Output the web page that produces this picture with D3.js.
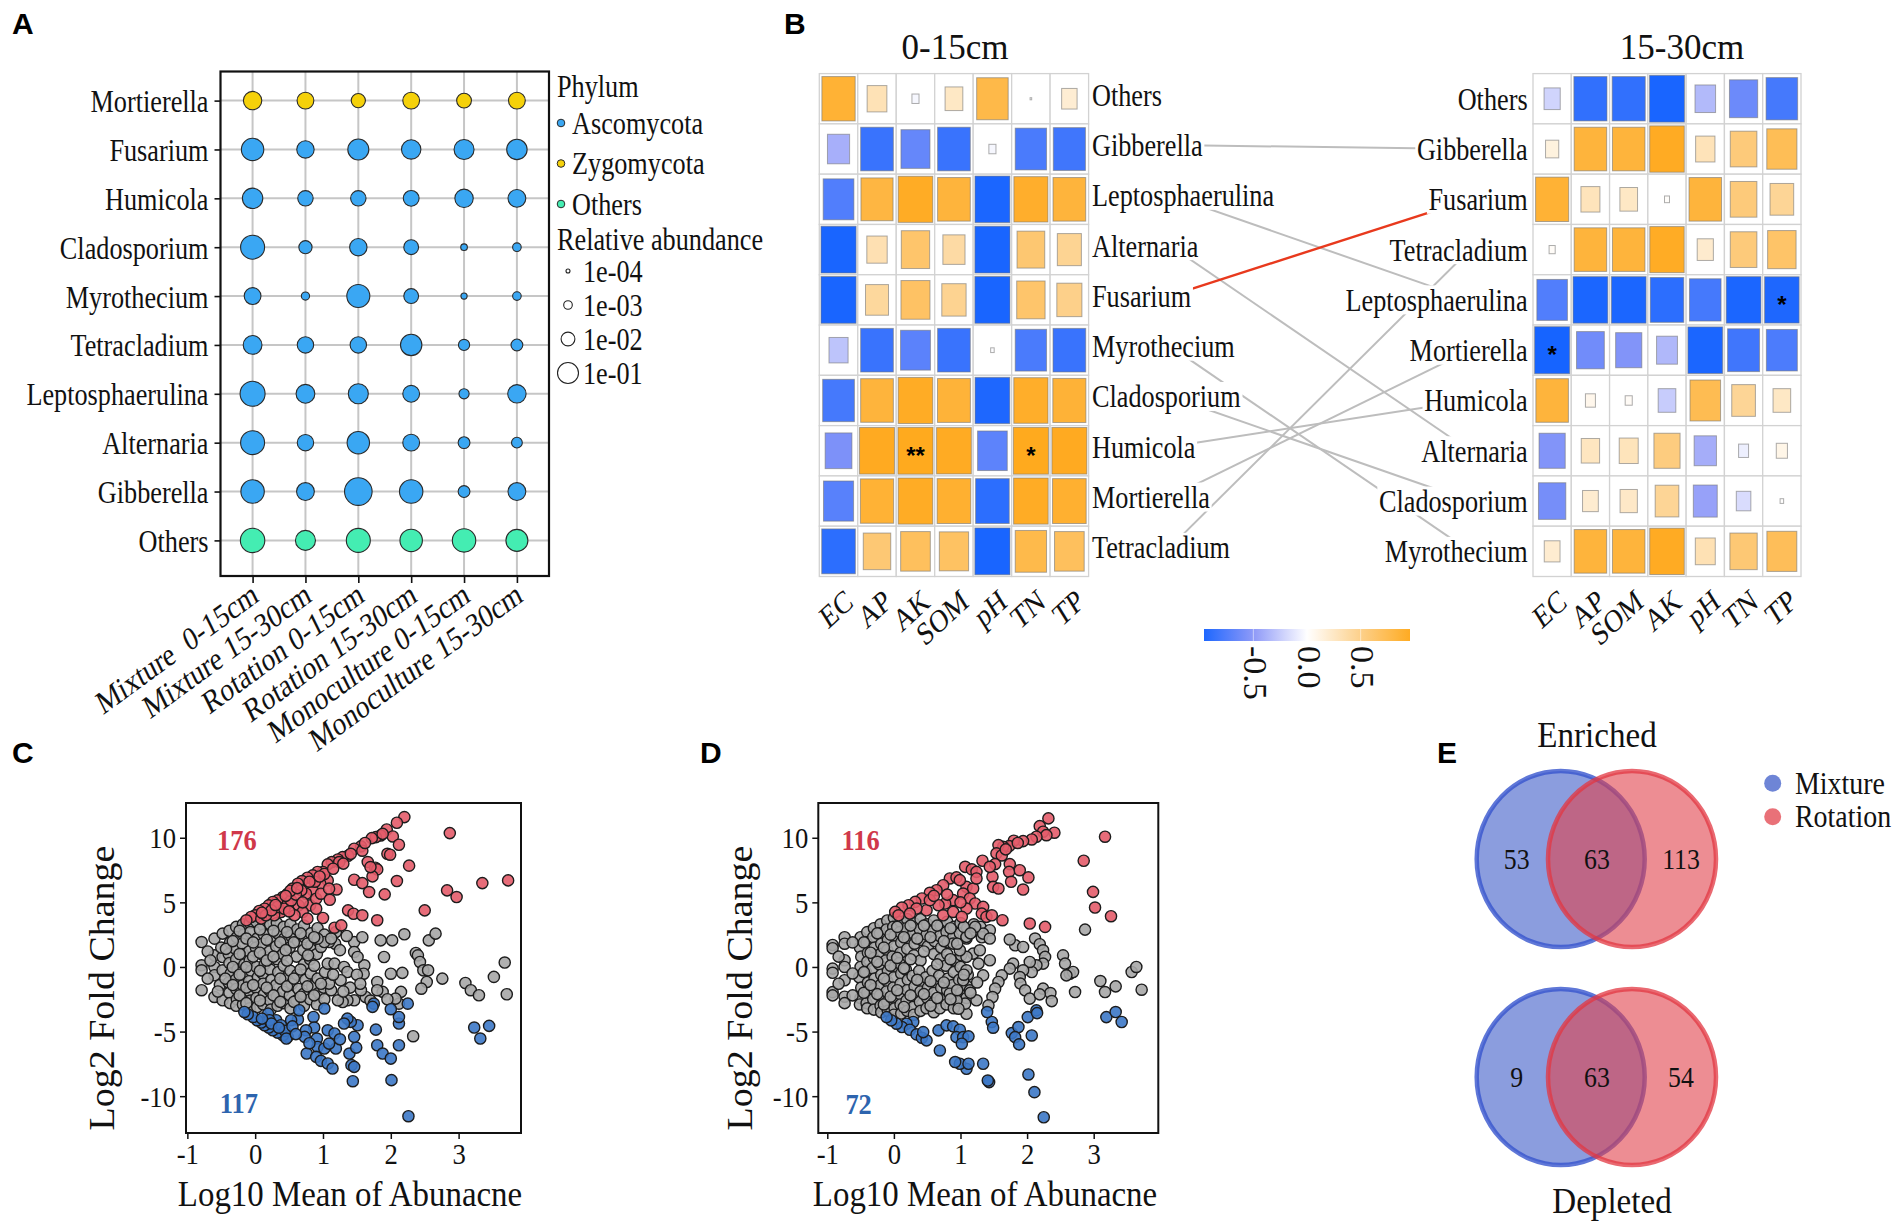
<!DOCTYPE html>
<html><head><meta charset="utf-8">
<script src="https://cdn.jsdelivr.net/npm/d3@7"></script>
<style>html,body{margin:0;padding:0;background:#fff;} svg{display:block;}</style>
</head><body><svg id="fig" width="1900" height="1229"></svg>
<script>
// ================= DATA =================
// Panel A
const genera = ["Mortierella","Fusarium","Humicola","Cladosporium","Myrothecium","Tetracladium","Leptosphaerulina","Alternaria","Gibberella","Others"];
const generaPhylum = ["Zygomycota","Ascomycota","Ascomycota","Ascomycota","Ascomycota","Ascomycota","Ascomycota","Ascomycota","Ascomycota","Others"];
const samples = ["Mixture  0-15cm","Mixture 15-30cm","Rotation 0-15cm","Rotation 15-30cm","Monoculture 0-15cm","Monoculture 15-30cm"];
const abundance = [
  [0.0435,0.026,0.0114,0.026,0.0138,0.026],
  [0.124,0.0316,0.1,0.06,0.0726,0.0826],
  [0.083,0.0167,0.0167,0.019,0.0435,0.036],
  [0.158,0.0077,0.0316,0.0138,0.00037,0.001],
  [0.026,0.00082,0.136,0.0138,0.0003,0.001],
  [0.049,0.023,0.023,0.106,0.00316,0.0041],
  [0.185,0.049,0.073,0.026,0.002,0.0435],
  [0.158,0.023,0.124,0.026,0.0041,0.00265],
  [0.145,0.036,0.275,0.145,0.0041,0.036],
  [0.169,0.073,0.158,0.124,0.145,0.116]
];
const phyla = ["Ascomycota","Zygomycota","Others"];
const sizeBreaks = [1e-4,1e-3,1e-2,1e-1];
const sizeLabels = ["1e-04","1e-03","1e-02","1e-01"];

// Panel B
const envLeft = ["EC","AP","AK","SOM","pH","TN","TP"];
const envRight = ["EC","AP","SOM","AK","pH","TN","TP"];
const rowsLeft = ["Others","Gibberella","Leptosphaerulina","Alternaria","Fusarium","Myrothecium","Cladosporium","Humicola","Mortierella","Tetracladium"];
const rowsRight = ["Others","Gibberella","Fusarium","Tetracladium","Leptosphaerulina","Mortierella","Humicola","Alternaria","Cladosporium","Myrothecium"];
const corrLeft = [
  [0.88,0.31,-0.04,0.25,0.79,0.002,0.19],
  [-0.39,-0.85,-0.67,-0.85,-0.04,-0.78,-0.82],
  [-0.75,0.82,0.95,0.85,-0.97,0.92,0.85],
  [-0.98,0.33,0.64,0.39,-0.98,0.61,0.46],
  [-0.98,0.42,0.67,0.47,-0.98,0.64,0.50],
  [-0.29,-0.85,-0.71,-0.85,-0.01,-0.78,-0.85],
  [-0.80,0.85,0.95,0.86,-0.96,0.93,0.87],
  [-0.57,0.97,0.98,0.96,-0.70,0.98,0.97],
  [-0.72,0.88,0.95,0.90,-0.90,0.95,0.90],
  [-0.90,0.60,0.70,0.68,-0.98,0.78,0.70]
];
const corrRight = [
  [-0.21,-0.88,-0.88,-0.98,-0.34,-0.64,-0.80],
  [0.14,0.85,0.85,0.96,0.30,0.57,0.73],
  [0.88,0.29,0.25,0.02,0.85,0.57,0.45],
  [0.03,0.85,0.85,0.95,0.21,0.57,0.65],
  [-0.75,-0.97,-0.97,-0.90,-0.80,-0.97,-0.96],
  [-0.99,-0.62,-0.55,-0.35,-0.97,-0.82,-0.77],
  [0.85,0.08,0.04,-0.25,0.75,0.45,0.25],
  [-0.55,0.27,0.29,0.55,-0.40,-0.08,0.10],
  [-0.60,0.20,0.24,0.45,-0.46,-0.17,0.01],
  [0.20,0.85,0.85,0.96,0.32,0.60,0.72]
];
const sigLeft = [["Humicola","AK","**"],["Humicola","TN","*"]];
const sigRight = [["Leptosphaerulina","TP","*"],["Mortierella","EC","*"]];
const linkGenera = ["Gibberella","Leptosphaerulina","Alternaria","Fusarium","Myrothecium","Cladosporium","Humicola","Mortierella","Tetracladium"];
const linkHighlight = ["Fusarium"];
const colorbarTicks = [-0.5,0,0.5];
const depthTitles = ["0-15cm","15-30cm"];

// Panel C  [log10 mean abundance, log2 fold change]
const maC_up = [[2.20,11.6],[2.09,11.16],[1.94,10.64],[1.85,10.18],[1.78,10.05],[1.72,9.97],[2.03,10.1],[2.12,9.46],[1.95,8.76],[1.99,8.69],[1.56,9.33],[1.46,9.15],[1.37,8.61],[1.29,8.5],[1.22,8.32],[1.13,8.12],[1.07,7.94],[1.66,8.12],[1.77,7.68],[1.80,7.55],[2.27,7.84],[1.73,7.01],[1.46,6.75],[1.58,6.49],[2.09,6.65],[1.68,5.8],[1.91,5.62],[1.0,7.35],[0.92,7.35],[0.85,7.09],[0.77,6.91],[0.69,6.65],[0.63,6.44],[1.07,6.7],[0.96,6.44],[1.20,6.0],[0.85,5.93],[0.75,5.67],[0.55,6.06],[0.48,5.67],[0.41,5.41],[0.33,5.15],[0.26,5.03],[0.20,4.77],[0.14,4.51],[0.06,4.33],[0.0,4.0],[-0.06,3.87],[-0.13,3.61],[0.64,4.77],[0.81,4.77],[0.70,4.25],[0.58,4.0],[0.38,4.25],[0.28,4.0],[1.37,4.38],[1.45,4.12],[1.58,4.0],[1.80,3.61],[2.50,4.38],[1.0,3.79],[1.17,3.04],[1.27,3.22],[2.83,5.93],[2.97,5.41],[3.35,6.49],[3.73,6.7],[2.87,10.36],[0.09,3.74],[0.16,4.0],[0.48,4.9],[0.33,4.64],[0.90,5.28],[0.97,5.67],[0.68,5.93],[1.09,6.06],[0.77,3.74],[0.43,4.51],[0.24,4.38],[0.53,5.15],[1.58,9.0],[1.41,8.76],[1.24,8.12],[1.02,7.2],[1.70,7.73],[1.88,10.3],[1.62,9.6],[0.88,6.6],[0.60,5.6],[0.52,5.9],[0.10,4.2],[0.30,4.8],[0.45,5.5],[0.62,6.1],[0.80,6.6],[0.95,7.0],[1.15,7.6],[1.30,8.0],[0.50,4.3],[0.70,5.0],[0.90,4.5],[1.10,5.2]];
const maC_down = [[2.26,-11.55],[2.01,-8.76],[1.44,-8.84],[1.42,-7.6],[1.46,-7.73],[1.39,-6.70],[1.49,-6.24],[1.46,-5.41],[1.51,-4.51],[1.41,-4.25],[1.36,-4.0],[1.78,-4.85],[1.80,-6.06],[1.88,-6.70],[2.0,-7.09],[2.12,-6.06],[2.12,-4.38],[2.12,-3.87],[2.0,-3.27],[1.75,-2.84],[2.25,-2.84],[3.23,-4.69],[3.32,-5.54],[3.45,-4.56],[1.02,-3.22],[0.86,-3.87],[0.87,-4.69],[0.75,-4.90],[0.73,-5.41],[0.91,-5.54],[1.07,-4.90],[1.17,-5.15],[0.92,-6.19],[1.02,-6.31],[1.19,-6.31],[0.76,-6.70],[0.90,-6.96],[0.97,-7.27],[1.07,-7.47],[1.14,-7.86],[0.63,-4.07],[0.53,-4.12],[0.48,-5.41],[0.41,-5.28],[0.33,-5.08],[0.26,-4.90],[0.20,-4.69],[0.14,-4.51],[0.09,-4.30],[0.03,-4.12],[-0.03,-3.87],[-0.11,-3.66],[-0.16,-3.48],[0.19,-3.61],[0.31,-4.12],[0.38,-4.51],[0.21,-4.12],[0.65,-3.35],[0.44,-4.95],[1.31,-4.38],[1.09,-5.93],[1.73,-3.09],[0.24,-4.38],[0.46,-5.54],[0.10,-4.0],[0.35,-4.7],[0.55,-4.6],[0.60,-5.2],[0.80,-5.9],[1.25,-5.6]];
const maC_ns = [[-0.79,1.93],[-0.79,0.13],[-0.79,-0.26],[-0.79,-1.8],[-0.60,2.19],[-0.60,0.9],[-0.60,0.0],[-0.60,-0.64],[-0.60,-2.32],[-0.48,2.58],[-0.48,0.77],[-0.48,-0.26],[-0.48,-2.58],[-0.50,1.5],[-0.52,-1.4],[-0.38,2.8],[-0.37,1.9],[-0.39,1.0],[-0.38,0.3],[-0.36,-0.5],[-0.39,-1.2],[-0.38,-2.0],[-0.37,-2.8],[-0.28,3.1],[-0.27,2.3],[-0.29,1.4],[-0.28,0.6],[-0.26,-0.2],[-0.29,-1.0],[-0.28,-1.7],[-0.27,-2.5],[-0.28,-3.0],[-0.18,3.3],[-0.17,2.5],[-0.19,1.8],[-0.18,1.0],[-0.16,0.2],[-0.19,-0.6],[-0.18,-1.4],[-0.17,-2.2],[-0.18,-2.9],[-0.08,3.4],[-0.07,2.7],[-0.09,1.2],[-0.08,0.5],[-0.06,-0.3],[-0.09,-1.1],[-0.08,-1.9],[-0.07,-2.6],[-0.08,-3.2],[0.02,3.5],[0.03,2.2],[0.01,1.5],[0.02,0.0],[0.04,-0.8],[0.01,-1.6],[0.02,-2.4],[0.03,-3.1],[0.12,3.2],[0.13,2.5],[0.11,1.8],[0.12,0.9],[0.14,0.2],[0.11,-0.5],[0.12,-1.3],[0.13,-2.1],[0.12,-2.9],[0.22,3.3],[0.23,2.0],[0.21,1.2],[0.22,-0.2],[0.24,-1.0],[0.21,-1.8],[0.22,-2.6],[0.23,-3.3],[0.32,3.4],[0.33,2.6],[0.31,1.6],[0.32,0.6],[0.34,-0.4],[0.31,-1.4],[0.32,-2.3],[0.33,-3.0],[0.42,3.1],[0.43,2.2],[0.41,1.0],[0.42,0.1],[0.44,-0.9],[0.41,-1.9],[0.42,-2.8],[0.52,3.3],[0.53,2.4],[0.51,1.5],[0.52,-0.3],[0.54,-1.3],[0.51,-2.2],[0.52,-3.2],[0.62,2.9],[0.63,2.0],[0.61,0.8],[0.62,-0.6],[0.64,-1.7],[0.61,-2.6],[0.72,3.2],[0.73,2.3],[0.71,1.3],[0.72,0.2],[0.74,-1.0],[0.71,-2.1],[0.72,-3.0],[0.82,2.6],[0.83,1.7],[0.81,0.6],[0.82,-0.5],[0.84,-1.5],[0.81,-2.5],[0.92,3.0],[0.93,2.0],[0.91,1.0],[0.92,-0.9],[0.94,-2.0],[0.91,-2.9],[1.02,2.5],[1.03,-0.4],[1.01,-1.6],[1.02,-2.5],[1.85,2.06],[2.02,2.06],[2.20,2.53],[2.56,2.06],[2.66,2.58],[2.37,1.08],[2.40,0.9],[2.43,0.39],[2.48,-0.26],[2.55,-0.26],[2.53,-1.16],[2.45,-1.68],[2.76,-0.9],[3.10,-1.24],[3.18,-1.8],[3.30,-2.19],[3.52,-0.77],[3.68,0.34],[3.71,-2.11],[2.33,-5.36],[2.15,-1.93],[2.12,-2.84],[2.07,-2.45],[2.0,-0.52],[2.17,-0.46],[1.90,0.77],[1.80,-1.16],[1.88,-1.93],[1.61,0.13],[1.60,-0.52],[1.63,-2.32],[1.56,-1.8],[1.46,-2.58],[1.36,-2.58],[1.29,-2.71],[1.22,-2.58],[1.12,-1.8],[1.09,-1.29],[1.07,0.26],[1.17,0.26],[1.31,0.0],[1.36,-0.39],[1.26,-1.03],[1.46,1.93],[1.46,1.16],[1.51,0.77],[1.18,1.8],[1.09,1.93],[0.97,1.55],[1.02,1.93],[0.92,2.19],[1.19,2.71],[1.80,-1.8],[1.50,-0.6],[1.55,-1.3],[1.40,-1.6],[1.70,-2.6],[1.95,-2.5],[1.25,1.3],[1.35,2.4],[1.58,2.3],[-0.70,1.2],[-0.70,-0.9],[-0.66,0.5],[-0.55,-1.9],[-0.43,1.4],[-0.44,-0.9],[-0.33,2.0],[-0.33,-1.4],[-0.33,0.0],[-0.23,2.8],[-0.23,1.0],[-0.23,-0.6],[-0.23,-2.2],[-0.13,2.2],[-0.13,0.0],[-0.13,-1.6],[-0.13,-2.8],[-0.03,1.9],[-0.03,0.8],[-0.03,-1.4],[0.07,2.9],[0.07,1.1],[0.07,-0.3],[0.07,-2.6],[0.17,2.1],[0.17,0.5],[0.17,-1.6],[0.27,2.8],[0.27,0.8],[0.27,-2.2],[0.37,1.9],[0.37,-0.9],[0.37,-2.7],[0.47,2.7],[0.47,0.5],[0.47,-1.5],[0.57,1.9],[0.57,-0.9],[0.57,-2.7],[0.67,2.6],[0.67,-0.2],[0.67,-2.3],[0.77,1.8],[0.77,-1.5],[0.87,2.3],[0.87,0.1],[0.87,-2.2],[0.97,-1.3],[1.12,2.2],[1.15,-0.6],[1.30,-1.9],[0.78,0.9],[0.45,1.3]];
const countLabelsC = [{n:176,x:-0.27,y:9.8,type:"up"},{n:117,x:-0.24,y:-10.55,type:"down"}];

// Panel D
const maD_up = [[2.32,11.5],[2.19,10.9],[2.24,10.47],[2.41,10.39],[2.29,10.2],[2.14,10.08],[2.07,9.87],[1.94,9.74],[1.80,9.77],[1.73,9.35],[1.64,9.3],[1.57,9.43],[1.54,8.79],[1.62,8.63],[3.17,10.08],[2.85,8.22],[1.33,8.22],[1.07,7.75],[1.17,7.55],[1.24,7.36],[1.52,7.96],[1.74,7.96],[1.73,7.36],[1.89,7.49],[2.02,6.93],[1.76,6.59],[1.48,6.98],[1.49,6.2],[1.57,6.07],[1.94,5.99],[2.99,5.81],[3.02,4.6],[3.26,3.93],[2.04,3.36],[2.27,3.1],[0.84,6.85],[0.94,6.93],[0.74,6.33],[0.64,5.94],[0.54,5.74],[0.42,5.3],[0.32,5.04],[0.22,4.78],[0.12,4.6],[0.02,4.26],[1.09,6.2],[1.19,6.07],[1.04,5.68],[0.89,5.17],[0.77,4.91],[1.14,5.3],[1.22,4.91],[1.09,4.52],[1.34,4.65],[1.32,4.13],[1.39,3.88],[1.47,4.0],[1.63,3.62],[0.67,4.78],[0.49,4.39],[0.34,4.52],[0.74,4.0],[0.89,4.26],[1.02,3.88],[0.24,4.13],[0.07,4.0],[0.54,5.17],[0.99,6.72],[1.24,6.85],[1.44,7.75],[1.68,9.1],[1.86,9.6],[0.60,5.5],[0.80,5.6],[1.00,5.0]];
const maD_down = [[2.25,-11.63],[2.11,-9.69],[2.02,-8.32],[1.43,-8.91],[1.41,-8.79],[1.34,-7.49],[1.09,-7.88],[0.99,-7.49],[0.92,-7.36],[1.12,-7.49],[0.69,-6.46],[0.67,-4.91],[0.79,-4.52],[0.89,-4.6],[0.99,-4.86],[0.94,-5.43],[1.04,-5.43],[1.12,-5.37],[1.02,-5.94],[1.47,-4.26],[1.49,-4.7],[1.40,-3.49],[1.77,-5.12],[1.87,-4.65],[1.82,-5.43],[1.88,-5.99],[2.07,-5.3],[2.01,-3.88],[2.14,-3.36],[2.15,-3.57],[3.19,-3.88],[3.33,-3.49],[3.42,-4.26],[0.29,-4.26],[0.19,-4.39],[0.12,-4.65],[0.04,-4.39],[0.24,-4.86],[0.34,-5.22],[0.42,-5.48],[0.49,-5.68],[0.44,-5.04],[-0.04,-4.13],[-0.11,-3.88]];
const maD_ns = [[-0.92,1.7],[-0.92,1.45],[-0.92,-0.13],[-0.92,-0.45],[-0.92,-1.95],[-0.92,-2.2],[-0.74,2.3],[-0.74,1.8],[-0.74,0.52],[-0.74,0.0],[-0.74,-1.03],[-0.74,-2.3],[-0.74,-2.8],[-0.5,2.3],[-0.51,1.5],[-0.49,0.8],[-0.5,0.0],[-0.52,-0.8],[-0.49,-1.6],[-0.5,-2.4],[-0.51,-2.9],[-0.4,2.7],[-0.41,1.9],[-0.39,1.1],[-0.4,0.4],[-0.42,-0.4],[-0.39,-1.2],[-0.4,-2.0],[-0.41,-2.8],[-0.4,-3.2],[-0.3,3.0],[-0.31,2.3],[-0.29,1.5],[-0.3,0.7],[-0.32,-0.1],[-0.29,-0.9],[-0.3,-1.7],[-0.31,-2.5],[-0.3,-3.3],[-0.2,3.3],[-0.21,2.6],[-0.19,1.8],[-0.2,1.0],[-0.22,0.2],[-0.19,-0.6],[-0.2,-1.4],[-0.21,-2.2],[-0.2,-3.0],[-0.19,-3.5],[-0.1,3.6],[-0.11,2.9],[-0.09,2.1],[-0.1,1.3],[-0.12,0.5],[-0.09,-0.3],[-0.1,-1.1],[-0.11,-1.9],[-0.1,-2.7],[-0.09,-3.4],[0.0,3.8],[-0.01,3.1],[0.01,2.4],[0.0,1.6],[-0.02,0.8],[0.01,0.0],[0.0,-0.8],[-0.01,-1.6],[0.0,-2.4],[0.01,-3.2],[0.0,-3.7],[0.1,3.5],[0.09,2.7],[0.11,1.9],[0.1,1.1],[0.08,0.3],[0.11,-0.5],[0.1,-1.3],[0.09,-2.1],[0.1,-2.9],[0.11,-3.6],[0.2,3.7],[0.19,3.0],[0.21,2.2],[0.2,1.4],[0.18,-0.2],[0.21,-1.0],[0.2,-1.8],[0.19,-2.6],[0.2,-3.4],[0.3,3.4],[0.29,2.6],[0.31,1.8],[0.3,0.9],[0.28,-0.7],[0.31,-1.5],[0.3,-2.3],[0.29,-3.1],[0.3,-3.7],[0.4,3.7],[0.39,2.9],[0.41,2.1],[0.4,0.5],[0.38,-0.3],[0.41,-1.1],[0.4,-1.9],[0.39,-2.7],[0.4,-3.4],[0.5,3.3],[0.49,2.5],[0.51,1.6],[0.48,-0.8],[0.51,-1.6],[0.5,-2.4],[0.49,-3.2],[0.6,3.6],[0.59,2.8],[0.61,2.0],[0.6,1.0],[0.58,-0.3],[0.61,-1.2],[0.6,-2.0],[0.59,-2.8],[0.6,-3.5],[0.7,3.2],[0.69,2.4],[0.71,1.5],[0.7,0.6],[0.68,-0.7],[0.71,-1.6],[0.7,-2.5],[0.69,-3.2],[0.8,3.5],[0.79,2.7],[0.81,1.9],[0.8,1.0],[0.78,0.1],[0.81,-0.9],[0.8,-1.8],[0.79,-2.9],[0.9,3.1],[0.89,2.3],[0.91,0.5],[0.9,-0.4],[0.88,-1.4],[0.91,-2.3],[0.9,-3.2],[1.0,3.4],[0.99,2.6],[1.01,0.9],[1.0,0.0],[0.98,-1.0],[1.01,-2.0],[1.1,3.0],[1.09,2.2],[1.11,-0.6],[1.1,-1.5],[1.09,-2.4],[1.2,3.3],[1.22,2.8],[1.3,3.1],[1.32,2.3],[1.44,2.84],[1.34,2.58],[1.22,3.1],[1.09,2.33],[1.82,1.68],[1.94,1.55],[2.12,2.2],[2.19,1.76],[2.24,1.29],[2.27,0.78],[2.24,0.26],[2.14,0.13],[2.07,-0.39],[2.04,0.39],[1.94,-0.26],[1.89,-0.78],[1.90,-1.29],[1.97,-1.81],[2.04,-2.45],[2.24,-1.68],[2.35,-2.02],[2.37,-2.64],[2.19,-2.12],[2.54,0.9],[2.57,0.26],[2.64,-0.52],[2.69,-0.39],[2.59,-0.65],[2.72,-1.94],[2.87,2.89],[3.10,-1.09],[3.17,-1.94],[3.33,-1.5],[3.57,-0.39],[3.64,0.0],[3.72,-1.76],[1.79,0.26],[1.74,-0.13],[1.62,-0.65],[1.57,-1.16],[1.52,-1.68],[1.48,-2.33],[1.42,-2.97],[1.09,-3.62],[1.34,-0.65],[1.27,0.26],[1.19,1.03],[1.29,1.29],[1.44,0.52],[1.09,0.78],[1.09,-0.26],[1.04,-1.03],[1.14,-1.81],[1.24,-2.58],[1.07,-2.84],[0.94,-2.58],[0.84,-2.07],[0.97,-3.23],[0.89,1.81],[0.99,1.29],[1.74,2.12],[1.44,2.2],[-0.83,0.8],[-0.83,-1.3],[-0.62,1.9],[-0.62,-0.5],[-0.62,-2.2],[-0.45,1.9],[-0.45,-0.4],[-0.45,-2.0],[-0.35,1.1],[-0.35,-1.4],[-0.25,2.6],[-0.25,0.4],[-0.25,-2.1],[-0.15,1.5],[-0.15,-0.9],[-0.15,-2.9],[-0.05,2.5],[-0.05,0.1],[-0.05,-2.3],[0.05,3.1],[0.05,0.7],[0.05,-1.8],[0.15,2.3],[0.15,-0.1],[0.15,-3.1],[0.25,3.2],[0.25,0.6],[0.25,-2.2],[0.35,2.2],[0.35,-1.0],[0.45,3.2],[0.45,1.2],[0.45,-2.1],[0.55,2.3],[0.55,-1.1],[0.55,-3.0],[0.65,3.2],[0.65,0.2],[0.65,-2.4],[0.75,2.0],[0.75,-1.2],[0.85,3.0],[0.85,0.6],[0.85,-2.5],[0.95,1.8],[0.95,-1.8],[1.05,3.1],[1.05,-0.6],[1.15,2.6],[1.15,-2.0],[1.25,-1.2]];
const countLabelsD = [{n:116,x:-0.5,y:9.8,type:"up"},{n:72,x:-0.53,y:-10.6,type:"down"}];
const maXTicks = [-1,0,1,2,3];
const maYTicks = [-10,-5,0,5,10];

// Panel E
const vennSets = ["Mixture","Rotation"];
const enrichedCounts = [53,63,113];
const depletedCounts = [9,63,54];

// ================= DRAWING =================
const SERIF = "'Liberation Serif','Times New Roman',serif";
const SANS = "'Liberation Sans',Arial,sans-serif";
const svg = d3.select("#fig");
svg.append("rect").attr("width",1900).attr("height",1229).attr("fill","#fff");

function T(g,x,y,s,o={}){
  const tr = `translate(${x},${y}) scale(${o.sx ?? 1},1)` + (o.rot ? ` rotate(${o.rot})` : "");
  return g.append("text").attr("transform",tr)
    .attr("font-family",o.family || SERIF).attr("font-size",o.size || 30)
    .attr("text-anchor",o.anchor || "start").attr("dominant-baseline",o.base || "auto")
    .attr("fill",o.fill || "#111").attr("font-weight",o.weight || "normal")
    .style("white-space","pre").text(s);
}

// panel letters
[["A",12,34],["B",784,34],["C",12,763],["D",700,763],["E",1437,763]].forEach(([l,x,y])=>
  T(svg,x,y,l,{family:SANS,size:30,weight:"bold",fill:"#000"}));

// ---------- Panel A ----------
(function(){
  const A={x0:220.5,x1:549,y0:71.5,y1:576};
  const xA=d3.scalePoint().domain(samples).range([A.x0,A.x1]).padding(0.607);
  const yA=d3.scalePoint().domain(genera).range([100.6,540.4]);
  const rA=d3.scaleLog().domain([1e-4,1e-3,1e-2,1e-1,1]).range([2,4.3,6.9,10.5,18]);
  const pc=d3.scaleOrdinal().domain(phyla).range(["#3AA7F3","#F5D10A","#44EDB2"]);
  const g=svg.append("g");
  g.selectAll(".vg").data(samples).join("line").attr("x1",d=>xA(d)).attr("x2",d=>xA(d))
    .attr("y1",A.y0).attr("y2",A.y1).attr("stroke","#c6c6c6").attr("stroke-width",2);
  g.selectAll(".hg").data(genera).join("line").attr("y1",d=>yA(d)).attr("y2",d=>yA(d))
    .attr("x1",A.x0).attr("x2",A.x1).attr("stroke","#c6c6c6").attr("stroke-width",2);
  const cells=genera.flatMap((gn,i)=>samples.map((s,j)=>({gn,s,v:abundance[i][j],p:generaPhylum[i]})));
  g.selectAll(".bub").data(cells).join("circle").attr("cx",d=>xA(d.s)).attr("cy",d=>yA(d.gn))
    .attr("r",d=>rA(d.v)).attr("fill",d=>pc(d.p)).attr("stroke","#2a2a2a").attr("stroke-width",1.1);
  g.append("rect").attr("x",A.x0).attr("y",A.y0).attr("width",A.x1-A.x0).attr("height",A.y1-A.y0)
    .attr("fill","none").attr("stroke","#111").attr("stroke-width",2.2);
  const axL=g.append("g").attr("transform",`translate(${A.x0},0)`).call(d3.axisLeft(yA).tickSize(6).tickSizeOuter(0));
  axL.select(".domain").remove();
  axL.selectAll("line").attr("stroke","#111").attr("stroke-width",1.6);
  axL.selectAll("text").attr("x",null).attr("dy",null).attr("font-size",32).attr("font-family",SERIF)
    .attr("fill","#111").attr("dominant-baseline","central").attr("transform","translate(-12,0) scale(0.82,1)");
  const axB=g.append("g").attr("transform",`translate(0,${A.y1})`).call(d3.axisBottom(xA).tickSize(7).tickSizeOuter(0));
  axB.select(".domain").remove();
  axB.selectAll("line").attr("stroke","#111").attr("stroke-width",1.6);
  axB.selectAll("text").attr("y",null).attr("dy",null).attr("font-size",33).attr("font-family",SERIF)
    .attr("fill","#111").attr("text-anchor","end").attr("dominant-baseline","hanging").style("white-space","pre")
    .attr("transform","translate(-3,4) scale(0.82,1) rotate(-31)");
  // legend
  T(g,557,97,"Phylum",{size:32,sx:0.82});
  phyla.forEach((p,i)=>{
    const y=123+i*40.5;
    g.append("circle").attr("cx",561).attr("cy",y).attr("r",3.8).attr("fill",pc(p)).attr("stroke","#2a2a2a").attr("stroke-width",1);
    T(g,572,y,p,{size:32,sx:0.82,base:"central"});
  });
  T(g,557,239,"Relative abundance",{size:32,sx:0.82,base:"central"});
  sizeBreaks.forEach((b,i)=>{
    const y=271+i*34;
    g.append("circle").attr("cx",568).attr("cy",y).attr("r",rA(b)).attr("fill","none").attr("stroke","#222").attr("stroke-width",1.1);
    T(g,583,y,sizeLabels[i],{size:32,sx:0.82,base:"central"});
  });
})();

// ---------- Panel B ----------
const heatColor=d3.scaleLinear().domain([-1,-0.5,0,0.5,1]).range(["#1463FF","#8E99F8","#FFFFFF","#FDD08A","#FFA81A"]);
const HB={y0:73.6,y1:576.5};
function drawHeat(x0,x1,rows,cols,M,sig,title,titleX){
  const xb=d3.scaleBand().domain(cols).range([x0,x1]);
  const yb=d3.scaleBand().domain(rows).range([HB.y0,HB.y1]);
  const g=svg.append("g");
  const cells=rows.flatMap((r,i)=>cols.map((c,j)=>({r,c,v:M[i][j]})));
  const W=xb.bandwidth(),H=yb.bandwidth();
  g.selectAll(".bg").data(cells).join("rect").attr("x",d=>xb(d.c)).attr("y",d=>yb(d.r))
    .attr("width",W).attr("height",H).attr("fill","#fff").attr("stroke","#d2d2d2").attr("stroke-width",1.3);
  g.selectAll(".sq").data(cells).join("rect")
    .attr("x",d=>xb(d.c)+W/2-(W-3)*Math.sqrt(Math.abs(d.v))/2)
    .attr("y",d=>yb(d.r)+H/2-(H-3)*Math.sqrt(Math.abs(d.v))/2)
    .attr("width",d=>(W-3)*Math.sqrt(Math.abs(d.v))).attr("height",d=>(H-3)*Math.sqrt(Math.abs(d.v)))
    .attr("fill",d=>heatColor(d.v)).attr("stroke","#777").attr("stroke-opacity",0.6).attr("stroke-width",1);
  sig.forEach(([r,c,s])=>T(g,xb(c)+W/2,yb(r)+H/2+13,s,{family:SANS,size:24,weight:"bold",anchor:"middle",fill:"#000"}));
  cols.forEach(c=>T(g,xb(c)+W/2+5,587,c,{size:32,sx:0.82,rot:-37,anchor:"end",base:"hanging"}));
  T(g,titleX,59,title,{size:35,anchor:"middle"});
  return {xb,yb};
}
const HL=drawHeat(819.3,1088.6,rowsLeft,envLeft,corrLeft,sigLeft,depthTitles[0],955);
const HR=drawHeat(1533,1801,rowsRight,envRight,corrRight,sigRight,depthTitles[1],1682);
// links
(function(){
  const g=svg.append("g");
  const LX=1170,RX=1470;
  const hL=HL.yb.bandwidth()/2,hR=HR.yb.bandwidth()/2;
  g.selectAll("line").data(linkGenera).join("line")
    .attr("x1",LX).attr("y1",d=>HL.yb(d)+hL-4).attr("x2",RX).attr("y2",d=>HR.yb(d)+hR)
    .attr("stroke",d=>linkHighlight.includes(d)?"#E8391D":"#BDBDBD")
    .attr("stroke-width",d=>linkHighlight.includes(d)?2.4:2);
  function lab(x,y,s,anchor){
    const t=T(g,x,y,s,{size:32,sx:0.82,anchor,base:"central"});
    const bb=t.node().getBBox();
    g.insert("rect",()=>t.node()).attr("transform",t.attr("transform"))
      .attr("x",bb.x-2).attr("y",bb.y+3).attr("width",bb.width+4).attr("height",bb.height-6).attr("fill","#fff");
  }
  rowsLeft.forEach(r=>lab(1092,HL.yb(r)+hL-4,r,"start"));
  rowsRight.forEach(r=>lab(1527.6,HR.yb(r)+hR,r,"end"));
})();
// colorbar
(function(){
  const cx=d3.scaleLinear().domain([-0.96,0.96]).range([1204,1410]);
  const defs=svg.append("defs");
  const gr=defs.append("linearGradient").attr("id","cbar").attr("x1","0%").attr("x2","100%");
  d3.range(0,1.0001,0.05).forEach(t=>gr.append("stop").attr("offset",t).attr("stop-color",heatColor(-0.96+1.92*t)));
  const g=svg.append("g");
  g.append("rect").attr("x",1204).attr("y",629).attr("width",206).attr("height",12).attr("fill","url(#cbar)");
  colorbarTicks.forEach(v=>{
    g.append("line").attr("x1",cx(v)).attr("x2",cx(v)).attr("y1",629).attr("y2",641).attr("stroke","#fff").attr("stroke-opacity",0.5);
    T(g,cx(v)+2,646,v.toFixed(1),{size:34,rot:90,anchor:"start",base:"central"});
  });
})();

// ---------- Panels C & D ----------
function drawMA(xr,xdom,up,down,ns,labels,yTitleX,xTitleX){
  const x=d3.scaleLinear().domain(xdom).range(xr);
  const y=d3.scaleLinear().domain([-12.85,12.69]).range([1133,803]);
  const g=svg.append("g");
  const pts=(arr,fill)=>g.append("g").selectAll("circle").data(arr).join("circle")
    .attr("cx",d=>x(d[0])).attr("cy",d=>y(d[1])).attr("r",5.6).attr("fill",fill).attr("fill-opacity",0.9)
    .attr("stroke","#1c1c1c").attr("stroke-width",1.4);
  pts(ns,"#A7A7A7"); pts(down,"#3C78C6"); pts(up,"#E45C6A");
  g.append("rect").attr("x",xr[0]).attr("y",803).attr("width",xr[1]-xr[0]).attr("height",330)
    .attr("fill","none").attr("stroke","#111").attr("stroke-width",2);
  const ay=g.append("g").attr("transform",`translate(${xr[0]},0)`).call(d3.axisLeft(y).tickValues(maYTicks).tickSize(6).tickFormat(d=>String(d)));
  ay.select(".domain").remove();
  ay.selectAll("line").attr("stroke","#111").attr("stroke-width",1.5);
  ay.selectAll("text").attr("x",null).attr("dy",null).attr("font-size",29).attr("font-family",SERIF).attr("fill","#111")
    .attr("dominant-baseline","central").attr("transform","translate(-10,0) scale(0.92,1)");
  const ax=g.append("g").attr("transform","translate(0,1133)").call(d3.axisBottom(x).tickValues(maXTicks).tickSize(6).tickFormat(d=>String(d)));
  ax.select(".domain").remove();
  ax.selectAll("line").attr("stroke","#111").attr("stroke-width",1.5);
  ax.selectAll("text").attr("y",null).attr("dy",null).attr("font-size",29).attr("font-family",SERIF).attr("fill","#111")
    .attr("dominant-baseline","hanging").attr("transform","translate(0,10) scale(0.92,1)");
  T(g,xTitleX,1206,"Log10 Mean of Abunacne",{size:35,sx:0.94,anchor:"middle"});
  T(g,yTitleX,988,"Log2 Fold Change",{size:38,sx:0.94,rot:-90,anchor:"middle"});
  labels.forEach(l=>T(g,x(l.x),y(l.y),String(l.n),{size:30,sx:0.88,weight:"bold",anchor:"middle",base:"central",
    fill:l.type==="up"?"#D0384A":"#2D64AE"}));
}
drawMA([186,521],[-1.02,3.92],maC_up,maC_down,maC_ns,countLabelsC,114,350);
drawMA([818.3,1158.3],[-1.135,3.97],maD_up,maD_down,maD_ns,countLabelsD,752,985);

// ---------- Panel E ----------
(function(){
  const g=svg.append("g");
  const fills=["rgba(62,92,200,0.6)","rgba(225,65,75,0.6)"];
  const strokes=["rgba(55,85,205,0.8)","rgba(225,55,65,0.75)"];
  const cxs=[1560.7,1632];
  const numX=[1516.7,1597,1681];
  function venn(cy,vals){
    cxs.forEach((cx,i)=>g.append("ellipse").attr("cx",cx).attr("cy",cy).attr("rx",84).attr("ry",88)
      .attr("fill",fills[i]).attr("stroke",strokes[i]).attr("stroke-width",4.5));
    vals.forEach((v,i)=>T(g,numX[i],cy,String(v),{size:30,sx:0.86,anchor:"middle",base:"central"}));
  }
  venn(859,enrichedCounts);
  venn(1077,depletedCounts);
  T(g,1597,747,"Enriched",{size:36,sx:0.92,anchor:"middle"});
  T(g,1612,1213,"Depleted",{size:36,sx:0.92,anchor:"middle"});
  vennSets.forEach((s,i)=>{
    const y=783.3+i*33.4;
    g.append("circle").attr("cx",1772.7).attr("cy",y).attr("r",8.5).attr("fill",fills[i].replace("0.6","0.75"));
    T(g,1795,y,s,{size:31,sx:0.9,base:"central"});
  });
})();
</script></body></html>
